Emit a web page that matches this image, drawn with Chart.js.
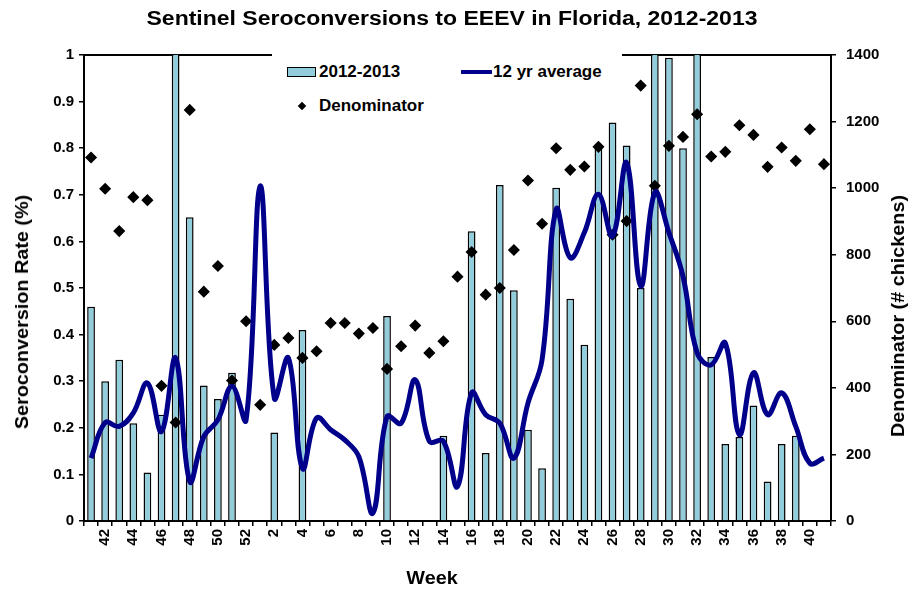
<!DOCTYPE html>
<html>
<head>
<meta charset="utf-8">
<script src="https://cdn.jsdelivr.net/npm/chart.js@4.4.0/dist/chart.umd.min.js"></script>
<style>
body { margin: 0; background: #fff; }
#wrap { position: relative; width: 912px; height: 590px; font-family: 'Liberation Sans', Arial, sans-serif; font-weight: bold; color: #000; }
.abs { position: absolute; white-space: nowrap; }
#title { left: 452px; top: 18px; font-size: 20px; line-height: 24px; transform: translate(-50%, -50%) scaleX(1.15); }
.ytitle { font-size: 18px; line-height: 20px; transform: translate(-50%, -50%) rotate(-90deg) scaleX(1.1); }
#xtitle { font-size: 18px; line-height: 20px; transform: translate(-50%, -50%) scaleX(1.1); }
#legend { left: 272px; top: 44px; width: 350px; height: 76px; background: #fff; }
#legend .t { font-size: 17px; line-height: 20px; }
</style>
</head>
<body>
<div id="wrap">
  <canvas id="myChart" width="912" height="590"></canvas>
  <div id="title" class="abs">Sentinel Seroconversions to EEEV in Florida, 2012-2013</div>
  <div class="abs ytitle" style="left:22px; top:312px;">Seroconversion Rate (%)</div>
  <div class="abs ytitle" style="left:898px; top:316px;">Denominator (# chickens)</div>
  <div id="xtitle" class="abs" style="left:432px; top:578px;">Week</div>
  <div id="legend" class="abs">
    <div class="abs" style="left:15px; top:23px; width:27px; height:8px; background:#92cddc; border:1.5px solid #000;"></div>
    <div class="abs t" style="left:47px; top:18px;">2012-2013</div>
    <div class="abs" style="left:189px; top:26px; width:31px; height:4px; background:#00008b;"></div>
    <div class="abs t" style="left:221px; top:18px;">12 yr average</div>
    <div class="abs" style="left:27px; top:59px; width:6px; height:6px; background:#000; transform:rotate(45deg);"></div>
    <div class="abs t" style="left:47px; top:52px;">Denominator</div>
  </div>
</div>
<script>
// weeks 41/2012 .. 41/2013
var weeks = ['41', '42', '43', '44', '45', '46', '47', '48', '49', '50', '51', '52',
    '1', '2', '3', '4', '5', '6', '7', '8', '9', '10', '11', '12', '13', '14', '15', '16', '17', '18', '19', '20',
    '21', '22', '23', '24', '25', '26', '27', '28', '29', '30', '31', '32', '33', '34', '35', '36', '37', '38', '39', '40', '41'];

// seroconversion rate 2012-2013 (bars go off the top at 47, 29, 32)
var rate2012 = [0.46, 0.30, 0.346, 0.21, 0.104, 0.228, 1.1, 0.652, 0.291, 0.262, 0.318, 0,
    0, 0.19, 0, 0.41, 0, 0, 0, 0, 0, 0.44, 0, 0, 0, 0.183, 0, 0.622, 0.146, 0.721, 0.495, 0.196,
    0.113, 0.715, 0.477, 0.378, 0.806, 0.855, 0.806, 0.5, 1.1, 0.994, 0.80, 1.1, 0.352, 0.165, 0.18, 0.248, 0.085, 0.165, 0.183, 0, 0];

// 12 yr average
var avg12yr = [0.135, 0.211, 0.203, 0.232, 0.296, 0.192, 0.35, 0.085, 0.181, 0.217, 0.289, 0.217,
    0.719, 0.264, 0.35, 0.113, 0.221, 0.196, 0.174, 0.138, 0.017, 0.224, 0.21, 0.303, 0.171, 0.171, 0.074, 0.275, 0.228, 0.21, 0.135, 0.253,
    0.346, 0.669, 0.565, 0.619, 0.701, 0.611, 0.769, 0.504, 0.705, 0.619, 0.525, 0.361, 0.335, 0.382, 0.185, 0.318, 0.228, 0.275, 0.203, 0.124, 0.135];

// denominator (# chickens)
var denominator = [1092, 998, 871, 973, 964, 406, 296, 1235, 689, 766, 422, 600,
    349, 529, 550, 490, 510, 595, 595, 563, 580, 457, 525, 587, 505, 540, 734, 808, 680, 700, 814, 1023,
    893, 1120, 1055, 1065, 1124, 860, 901, 1308, 1007, 1127, 1154, 1222, 1095, 1109, 1189, 1160, 1064, 1122, 1082, 1177, 1072];

var tickFont = { family: "'Liberation Sans', Arial, sans-serif", size: 15, weight: 'bold' };

// top edge of the plot frame (bars drawn over it)
const frameTop = {
    id: 'frameTop',
    beforeDatasetsDraw(chart) {
        let a = chart.chartArea;
        let c = chart.ctx;
        c.save();
        c.strokeStyle = '#000';
        c.lineWidth = 2;
        c.beginPath();
        c.moveTo(a.left, a.top);
        c.lineTo(a.right, a.top);
        c.stroke();
        c.restore();
    }
};

const config = {
    type: 'bar',
    data: {
        labels: weeks,
        datasets: [{
            type: 'line',
            label: '12 yr average',
            data: avg12yr,
            borderColor: '#00008b',
            borderWidth: 5,
            pointRadius: 0,
            tension: 0.4,
            yAxisID: 'y',
            order: 1
        }, {
            type: 'line',
            label: 'Denominator',
            data: denominator,
            showLine: false,
            pointStyle: 'rectRot',
            pointRadius: 5,
            pointBorderWidth: 1.5,
            pointBackgroundColor: '#000',
            pointBorderColor: '#000',
            yAxisID: 'y1',
            order: 2
        }, {
            type: 'bar',
            label: '2012-2013',
            data: rate2012,
            backgroundColor: '#92cddc',
            borderColor: '#000',
            borderWidth: 1.5,
            barPercentage: 0.55,
            categoryPercentage: 1,
            yAxisID: 'y',
            clip: 0,
            order: 3
        }]
    },
    options: {
        responsive: false,
        animation: false,
        devicePixelRatio: 1,
        layout: { padding: { top: 55, left: 0, right: 0, bottom: 0 } },
        plugins: {
            legend: { display: false },
            title: { display: false },
            tooltip: { enabled: false }
        },
        scales: {
            x: {
                grid: { offset: true, drawOnChartArea: false, tickLength: 5, color: '#000', lineWidth: 1.5 },
                border: { color: '#000', width: 2 },
                ticks: {
                    autoSkip: false,
                    minRotation: 90,
                    maxRotation: 90,
                    padding: 3,
                    color: '#000',
                    font: tickFont,
                    callback: function (val, i) {
                        return i % 2 === 1 ? weeks[i] : '';
                    }
                },
                afterFit: function (s) { s.height = 69; }
            },
            y: {
                position: 'left',
                min: 0,
                max: 1,
                ticks: {
                    stepSize: 0.1, padding: 5, color: '#000', font: tickFont,
                    callback: function (v) { return String(Math.round(v * 10) / 10); }
                },
                grid: { drawOnChartArea: false, tickLength: 5, color: '#000', lineWidth: 1.5 },
                border: { color: '#000', width: 2 },
                afterFit: function (s) { s.width = 84; }
            },
            y1: {
                position: 'right',
                min: 0,
                max: 1400,
                ticks: { stepSize: 200, padding: 10, color: '#000', font: tickFont, callback: function (v) { return v; } },
                grid: { drawOnChartArea: false, tickLength: 5, color: '#000', lineWidth: 1.5 },
                border: { color: '#000', width: 2 },
                afterFit: function (s) { s.width = 81; }
            }
        }
    },
    plugins: [frameTop]
};

var myChart = new Chart(document.getElementById('myChart'), config);
</script>
</body>
</html>
